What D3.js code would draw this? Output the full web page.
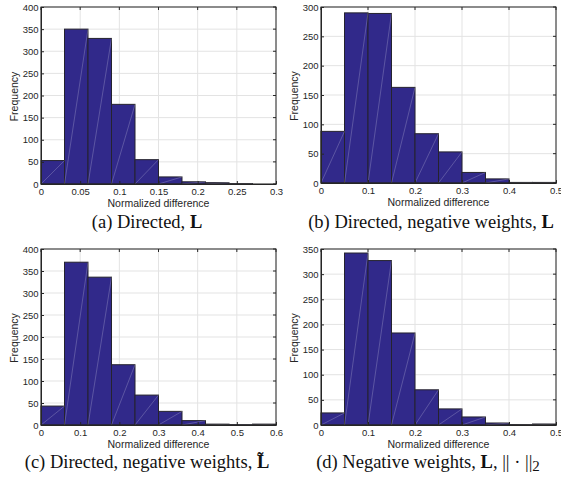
<!DOCTYPE html>
<html><head><meta charset="utf-8">
<script src="https://cdn.jsdelivr.net/npm/d3@7"></script>
<style>
body{margin:0;background:#fff;}
svg{display:block;}
.tick text{font-family:"Liberation Sans",Arial,sans-serif;}
</style></head>
<body><svg id="c" width="561" height="479"></svg>
<script>
// ---- data ----
const binsA = [0,0.03,0.06,0.09,0.12,0.15,0.18,0.21,0.24,0.27,0.30];
const freqA = [53,350,329,180,55,16,5,3,1,0];
const binsB = [0,0.05,0.10,0.15,0.20,0.25,0.30,0.35,0.40,0.45,0.50];
const freqB = [88,290,289,163,84,53,18,7,1,1];
const binsC = [0,0.06,0.12,0.18,0.24,0.30,0.36,0.42,0.48,0.54,0.60];
const freqC = [43,370,336,137,68,31,10,2,1,2];
const binsD = [0,0.05,0.10,0.15,0.20,0.25,0.30,0.35,0.40,0.45,0.50];
const freqD = [24,342,327,183,70,32,16,4,1,2];
const xTicksA = [0,0.05,0.1,0.15,0.2,0.25,0.3];
const xTicksB = [0,0.1,0.2,0.3,0.4,0.5];
const xTicksC = [0,0.1,0.2,0.3,0.4,0.5,0.6];
const xTicksD = [0,0.1,0.2,0.3,0.4,0.5];
const yTicksA = [0,50,100,150,200,250,300,350,400];
const yTicksB = [0,50,100,150,200,250,300];
const yTicksC = [0,50,100,150,200,250,300,350,400];
const yTicksD = [0,50,100,150,200,250,300,350];
const xLabel = "Normalized difference";
const yLabel = "Frequency";

const svg = d3.select("#c");
const panels = [
  {bins:binsA,freq:freqA,xt:xTicksA,yt:yTicksA,xmax:0.3,ymax:400,l:41,t:7,r:276,b:184},
  {bins:binsB,freq:freqB,xt:xTicksB,yt:yTicksB,xmax:0.5,ymax:300,l:321,t:7,r:556,b:183},
  {bins:binsC,freq:freqC,xt:xTicksC,yt:yTicksC,xmax:0.6,ymax:400,l:41,t:249,r:276,b:425},
  {bins:binsD,freq:freqD,xt:xTicksD,yt:yTicksD,xmax:0.5,ymax:350,l:321,t:249,r:556,b:425}
];
const fill = "#31298a", edge = "#25232e", axisC = "#262626";

panels.forEach(p=>{
  const x = d3.scaleLinear().domain([0,p.xmax]).range([p.l,p.r]);
  const y = d3.scaleLinear().domain([0,p.ymax]).range([p.b,p.t]);
  const g = svg.append("g");
  // grid
  g.selectAll(".gx").data(p.xt).enter().append("line")
    .attr("x1",d=>x(d)).attr("x2",d=>x(d)).attr("y1",p.t).attr("y2",p.b)
    .attr("stroke","#e3e3e3").attr("stroke-width",1);
  g.selectAll(".gy").data(p.yt).enter().append("line")
    .attr("y1",d=>y(d)).attr("y2",d=>y(d)).attr("x1",p.l).attr("x2",p.r)
    .attr("stroke","#e3e3e3").attr("stroke-width",1);
  // bars
  const data = p.freq.map((f,i)=>({x0:p.bins[i],x1:p.bins[i+1],f}));
  g.selectAll(".bar").data(data).enter().append("rect")
    .attr("x",d=>x(d.x0)).attr("width",d=>x(d.x1)-x(d.x0))
    .attr("y",d=>y(d.f)).attr("height",d=>y(0)-y(d.f))
    .attr("fill",fill).attr("stroke",edge).attr("stroke-width",1);
  g.selectAll(".diag").data(data.filter(d=>d.f>0)).enter().append("line")
    .attr("x1",d=>x(d.x0)).attr("y1",y(0)).attr("x2",d=>x(d.x1)).attr("y2",d=>y(d.f))
    .attr("stroke","#ffffff").attr("stroke-opacity",0.35).attr("stroke-width",0.6);
  // box
  g.append("rect").attr("x",p.l).attr("y",p.t).attr("width",p.r-p.l).attr("height",p.b-p.t)
    .attr("fill","none").attr("stroke",axisC).attr("stroke-width",1);
  // axes
  const xa = d3.axisBottom(x).tickValues(p.xt).tickSizeInner(-3).tickSizeOuter(0).tickPadding(4)
    .tickFormat(d=>d3.format("~g")(d));
  const ya = d3.axisLeft(y).tickValues(p.yt).tickSizeInner(-3).tickSizeOuter(0).tickPadding(6);
  const gx = g.append("g").attr("transform",`translate(0,${p.b})`).call(xa);
  const gy = g.append("g").attr("transform",`translate(${p.l},0)`).call(ya);
  [gx,gy].forEach(a=>{
    a.select(".domain").attr("stroke",axisC);
    a.selectAll(".tick line").attr("stroke",axisC);
    a.selectAll(".tick text").attr("fill","#262626").attr("font-size","9.5px");
  });
  gy.selectAll(".tick text").attr("x",-2.5);
  // right and top ticks
  g.selectAll(".rt").data(p.yt).enter().append("line")
    .attr("x1",p.r).attr("x2",p.r-3).attr("y1",d=>y(d)).attr("y2",d=>y(d)).attr("stroke",axisC);
  g.selectAll(".tt").data(p.xt).enter().append("line")
    .attr("y1",p.t).attr("y2",p.t+3).attr("x1",d=>x(d)).attr("x2",d=>x(d)).attr("stroke",axisC);
  // labels
  g.append("text").attr("x",(p.l+p.r)/2).attr("y",p.b+22.5).attr("text-anchor","middle")
    .attr("font-family","Liberation Sans,Arial,sans-serif").attr("font-size","10.5px").attr("fill","#262626")
    .text(xLabel);
  g.append("text").attr("transform",`translate(${p.l-23},${(p.t+p.b)/2+1}) rotate(-90)`)
    .attr("text-anchor","middle")
    .attr("font-family","Liberation Sans,Arial,sans-serif").attr("font-size","10.5px").attr("fill","#262626")
    .text(yLabel);
});

// captions
const capFont = "Liberation Serif,Times New Roman,serif";
function cap(cx, cy){
  return svg.append("text").attr("x",cx).attr("y",cy).attr("text-anchor","middle")
    .attr("font-family",capFont).attr("font-size","18.5px").attr("fill","#111");
}
let t = cap(147,228);
t.append("tspan").text("(a) Directed, ");
t.append("tspan").attr("font-weight","bold").text("L");
t = cap(431,228);
t.append("tspan").text("(b) Directed, negative weights, ");
t.append("tspan").attr("font-weight","bold").text("L");
t = cap(147,467.5);
t.append("tspan").text("(c) Directed, negative weights, ");
t.append("tspan").attr("font-weight","bold").text("L\u0303");
t = cap(428,467.5);
t.append("tspan").text("(d) Negative weights, ");
t.append("tspan").attr("font-weight","bold").text("L");
t.append("tspan").text(", || \u00B7 ||");
t.append("tspan").attr("font-size","15px").attr("dy","3").text("2");
</script></body></html>
